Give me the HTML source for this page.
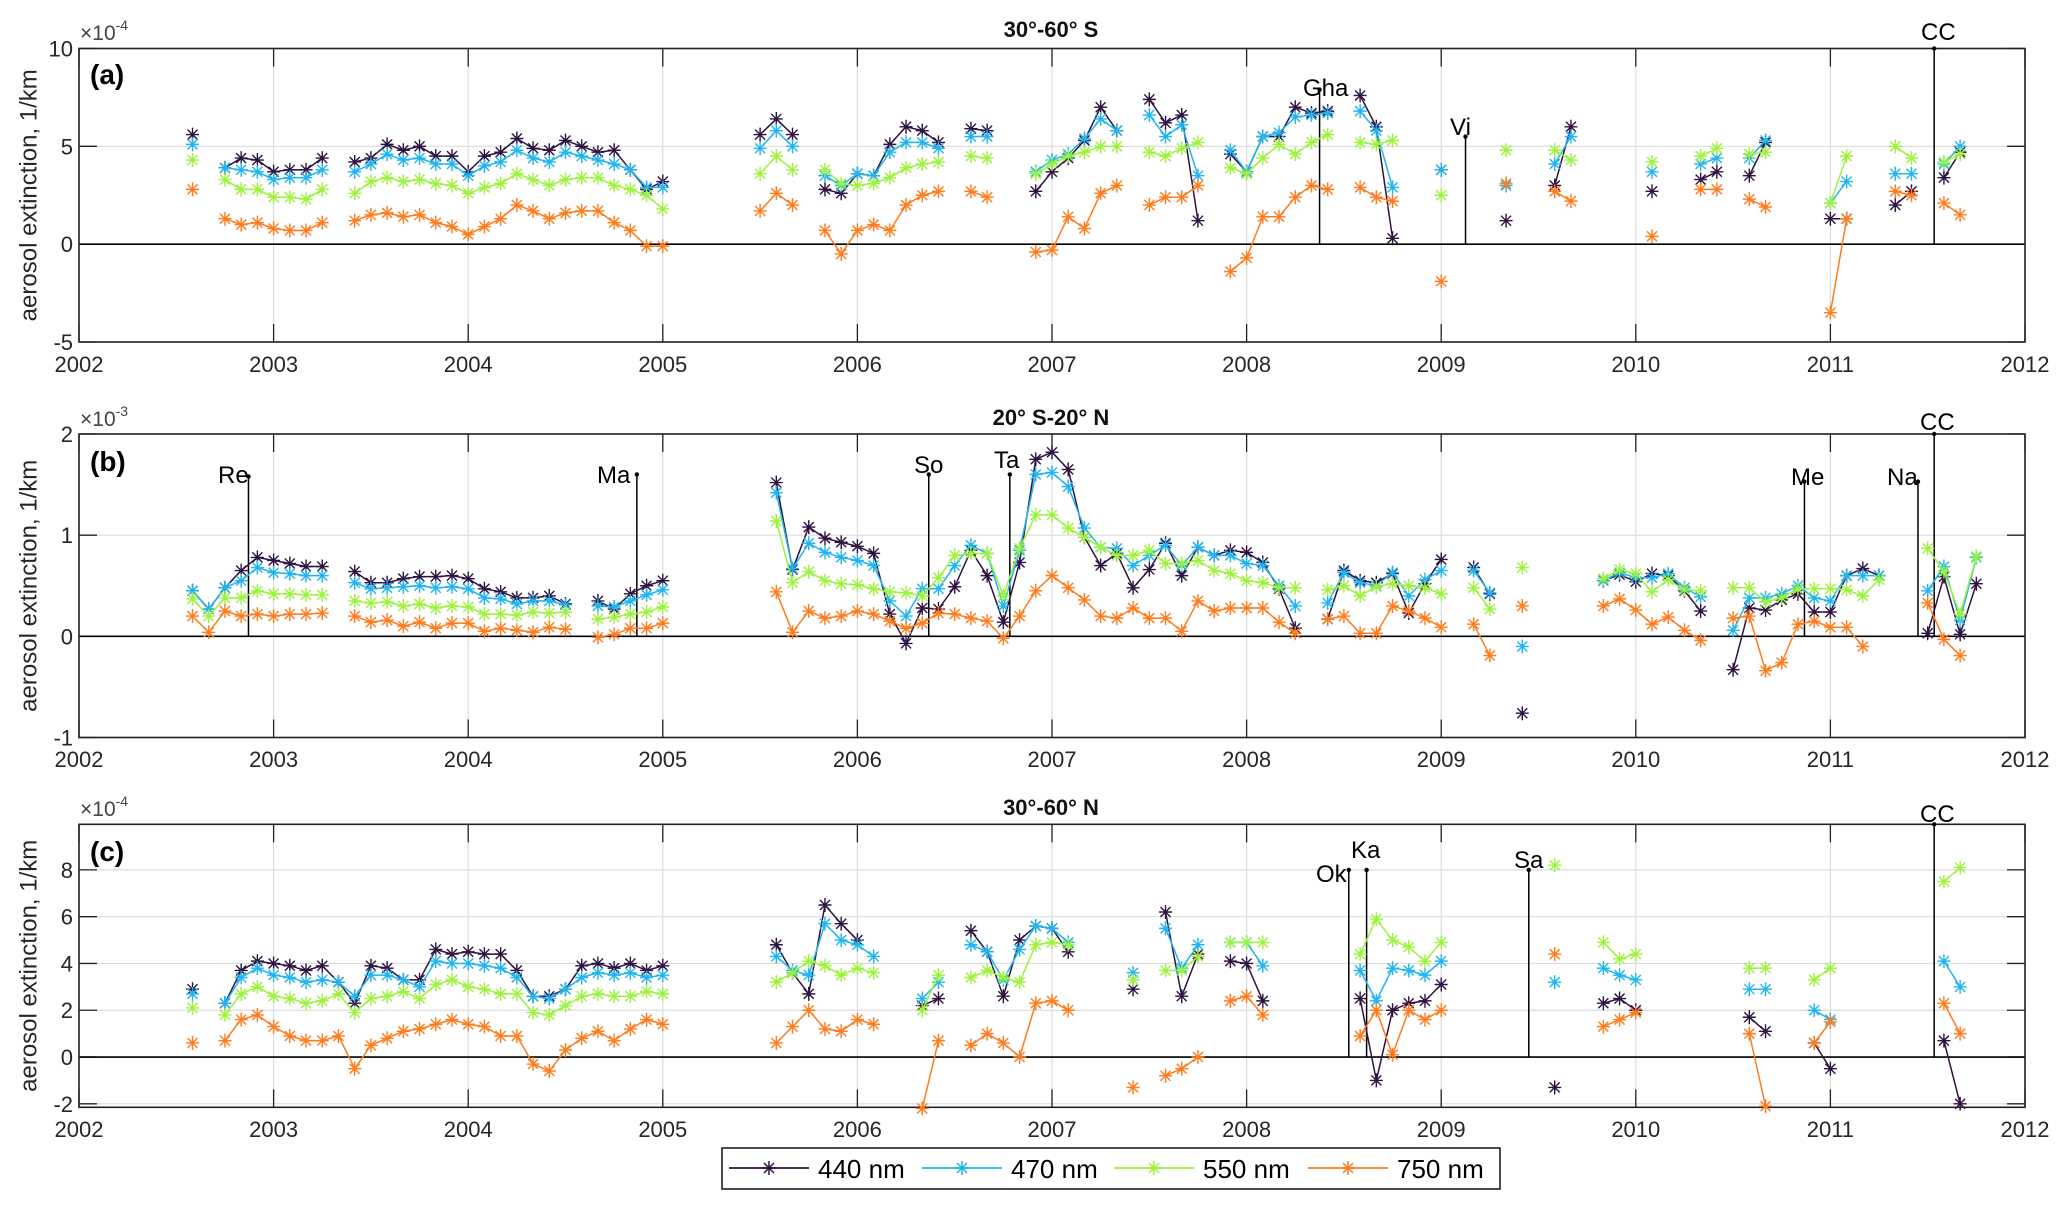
<!DOCTYPE html>
<html>
<head>
<meta charset="utf-8">
<style>
html,body{margin:0;padding:0;background:#fff;}
svg{display:block;font-family:"Liberation Sans",Arial,sans-serif;}
</style>
</head>
<body>
<svg id="chart" width="2067" height="1207" viewBox="0 0 2067 1207" xmlns="http://www.w3.org/2000/svg">
<rect x="0" y="0" width="2067" height="1207" fill="#fff"/>
</svg>
<script>
// ---------- shared ----------
const yearTicks = [2002,2003,2004,2005,2006,2007,2008,2009,2010,2011,2012];
const seriesNames = ["440 nm","470 nm","550 nm","750 nm"];

// ---------- panel (a) 30-60 S, units 1e-4 ----------
const aMonths = [7, 9,10,11,12,13,14,15,
 17,18,19,20,21,22,23,24,25,26,27,28,29,30,31,32,33,34,35,36,
 42,43,44, 46,47,48,49,50,51,52,53, 55,56, 59,60,61,62,63,64,
 66,67,68,69, 71,72,73,74,75,76,77, 79,80,81, 84, 88, 91,92, 97,
 100,101, 103,104, 108,109, 112,113, 115,116];
const a440 = [5.6, 3.9,4.4,4.3,3.7,3.8,3.8,4.4,
 4.2,4.4,5.1,4.8,5.0,4.5,4.5,3.7,4.5,4.7,5.4,4.9,4.8,5.3,5.0,4.7,4.8,3.8,2.8,3.2,
 5.6,6.4,5.6, 2.8,2.6,3.6,3.5,5.1,6.0,5.8,5.2, 5.9,5.8, 2.7,3.7,4.4,5.3,7.0,5.8,
 7.4,6.2,6.6,1.2, 4.6,3.7,5.5,5.5,7.0,6.7,6.8, 7.6,6.0,0.3, 3.8, 1.2, 3.0,6.0, 2.7,
 3.3,3.7, 3.5,5.2, 1.3,1.3, 2.0,2.7, 3.4,4.7];
const a470 = [5.1, 3.9,3.8,3.7,3.3,3.4,3.4,3.8,
 3.7,4.1,4.6,4.3,4.4,4.1,4.1,3.5,4.0,4.2,4.8,4.4,4.2,4.7,4.5,4.3,4.1,3.8,2.9,2.9,
 4.9,5.8,5.0, 3.5,3.0,3.6,3.5,4.7,5.2,5.2,4.9, 5.5,5.5, 3.7,4.3,4.6,5.4,6.4,5.8,
 6.6,5.5,6.1,3.5, 4.8,3.7,5.5,5.7,6.5,6.6,6.7, 6.8,5.8,2.9, 3.8, 3.0, 4.1,5.5, 3.7,
 4.1,4.4, 4.4,5.3, 2.1,3.2, 3.6,3.6, 4.1,5.0];
const a550 = [4.3, 3.3,2.8,2.8,2.4,2.4,2.3,2.8,
 2.6,3.2,3.4,3.2,3.3,3.1,3.0,2.6,2.9,3.1,3.6,3.3,3.0,3.3,3.4,3.4,3.0,2.8,2.5,1.8,
 3.6,4.5,3.8, 3.8,3.1,3.0,3.1,3.4,3.9,4.1,4.2, 4.5,4.4, 3.6,4.1,4.5,4.7,5.0,5.0,
 4.7,4.5,4.9,5.2, 3.9,3.6,4.4,5.1,4.6,5.2,5.6, 5.2,5.1,5.3, 2.5, 4.8, 4.8,4.3, 4.2,
 4.5,4.9, 4.6,4.7, 2.1,4.5, 5.0,4.4, 4.2,4.6];
const a750 = [2.8, 1.3,1.0,1.1,0.8,0.7,0.7,1.1,
 1.2,1.5,1.6,1.4,1.5,1.1,0.9,0.5,0.9,1.3,2.0,1.7,1.3,1.6,1.7,1.7,1.1,0.7,-0.1,-0.1,
 1.7,2.6,2.0, 0.7,-0.5,0.7,1.0,0.7,2.0,2.5,2.7, 2.7,2.4, -0.4,-0.3,1.4,0.8,2.6,3.0,
 2.0,2.4,2.4,3.0, -1.4,-0.7,1.4,1.4,2.4,3.0,2.8, 2.9,2.4,2.2, -1.9, 3.1, 2.7,2.2, 0.4,
 2.8,2.8, 2.3,1.9, -3.5,1.3, 2.7,2.5, 2.1,1.5];
const aTicks = [10,5,0,-5];
const aEventNames = ["Gha","Vi","CC"];
const aEventMonths = [76.5,85.5,114.4];
const aEventTops = [7.9,5.5,10];

// ---------- panel (b) 20S-20N, units 1e-3 ----------
const bMonths = [7,8,9,10,11,12,13,14,15,
 17,18,19,20,21,22,23,24,25,26,27,28,29,30,
 32,33,34,35,36,
 43,44,45,46,47,48,49,50,51,52,53,54,55,56,57,58,59,60,61,62,63,64,65,66,67,68,69,70,71,72,73,74,75,
 77,78,79,80,81,82,83,84, 86,87, 89,
 94,95,96,97,98,99,100,
 102,103,104,105,106,107,108,109,110,111,
 114,115,116,117];
const b440 = [0.45,0.27,0.48,0.65,0.78,0.75,0.72,0.69,0.69,
 0.64,0.53,0.53,0.57,0.59,0.59,0.6,0.57,0.47,0.44,0.38,0.38,0.4,0.32,
 0.35,0.27,0.42,0.5,0.55,
 1.52,0.66,1.08,0.97,0.93,0.89,0.82,0.22,-0.07,0.28,0.27,0.49,0.85,0.6,0.14,0.73,1.75,1.82,1.65,0.98,0.7,0.82,0.48,0.66,0.92,0.6,0.88,0.8,0.85,0.83,0.73,0.47,0.08,
 0.17,0.65,0.55,0.53,0.62,0.23,0.52,0.76, 0.68,0.42, -0.76,
 0.55,0.61,0.54,0.62,0.6,0.45,0.25,
 -0.33,0.28,0.26,0.36,0.42,0.24,0.24,0.6,0.67,0.6,
 0.03,0.59,0.02,0.52];
const b470 = [0.45,0.27,0.48,0.55,0.68,0.63,0.62,0.6,0.6,
 0.53,0.47,0.48,0.49,0.5,0.48,0.49,0.47,0.38,0.37,0.32,0.35,0.35,0.31,
 0.3,0.29,0.35,0.41,0.46,
 1.42,0.67,0.92,0.83,0.78,0.75,0.7,0.35,0.2,0.47,0.47,0.7,0.9,0.82,0.3,0.85,1.6,1.62,1.48,1.07,0.88,0.87,0.7,0.8,0.9,0.7,0.88,0.8,0.8,0.72,0.7,0.5,0.3,
 0.33,0.63,0.53,0.5,0.63,0.4,0.56,0.65, 0.65,0.43, -0.1,
 0.55,0.63,0.58,0.58,0.62,0.48,0.39,
 0.06,0.38,0.38,0.42,0.5,0.38,0.35,0.6,0.6,0.6,
 0.45,0.69,0.16,0.78];
const b550 = [0.37,0.2,0.38,0.38,0.45,0.42,0.42,0.41,0.41,
 0.35,0.33,0.34,0.3,0.32,0.28,0.3,0.29,0.22,0.22,0.21,0.24,0.23,0.24,
 0.17,0.19,0.22,0.24,0.29,
 1.14,0.53,0.64,0.55,0.52,0.51,0.47,0.44,0.43,0.4,0.58,0.8,0.82,0.82,0.4,0.87,1.2,1.2,1.07,0.98,0.88,0.8,0.8,0.85,0.72,0.72,0.75,0.65,0.62,0.55,0.53,0.48,0.48,
 0.46,0.5,0.4,0.49,0.52,0.5,0.48,0.42, 0.48,0.27, 0.68,
 0.57,0.66,0.62,0.44,0.56,0.46,0.45,
 0.48,0.48,0.34,0.38,0.47,0.47,0.47,0.46,0.4,0.56,
 0.87,0.64,0.22,0.79];
const b750 = [0.2,0.04,0.25,0.2,0.22,0.2,0.22,0.22,0.23,
 0.2,0.14,0.16,0.1,0.14,0.08,0.13,0.13,0.05,0.08,0.06,0.04,0.09,0.07,
 -0.01,0.02,0.08,0.08,0.13,
 0.44,0.04,0.25,0.18,0.2,0.25,0.22,0.15,0.08,0.13,0.23,0.22,0.18,0.15,-0.02,0.2,0.45,0.6,0.48,0.36,0.2,0.18,0.28,0.18,0.18,0.05,0.35,0.25,0.28,0.28,0.28,0.14,0.03,
 0.17,0.2,0.03,0.03,0.3,0.25,0.18,0.09, 0.12,-0.19, 0.3,
 0.3,0.37,0.26,0.12,0.19,0.06,-0.04,
 0.18,0.2,-0.34,-0.26,0.12,0.15,0.09,0.09,-0.1,null,
 0.33,-0.03,-0.19,null];
const bTicks = [2,1,0,-1];
const bEventNames = ["Re","Ma","So","Ta","Me","Na","CC"];
const bEventMonths = [10.45,34.4,52.4,57.4,106.4,113.4,114.4];
const bEventTops = [1.58,1.6,1.6,1.6,1.53,1.53,2];

// ---------- panel (c) 30-60 N, units 1e-4 ----------
const cMonths = [7,
 9,10,11,12,13,14,15,16,17,18,19,20,21,22,23,24,25,26,27,28,29,30,31,32,33,34,35,36,
 43,44,45,46,47,48,49, 52,53, 55,56,57,58,59,60,61, 65, 67,68,69, 71,72,73,
 79,80,81,82,83,84, 91, 94,95,96, 103,104, 107,108, 115,116];
const c440 = [2.9,
 2.3,3.7,4.1,4.0,3.9,3.7,3.9,3.2,2.3,3.9,3.8,3.3,3.3,4.6,4.4,4.5,4.4,4.4,3.7,2.6,2.6,2.9,3.9,4.0,3.8,4.0,3.7,3.9,
 4.8,3.6,2.7,6.5,5.7,5.0,null, 2.2,2.5, 5.4,4.5,2.6,5.0,5.6,5.5,4.5, 2.9, 6.2,2.6,4.4, 4.1,4.0,2.4,
 2.5,-1.0,2.0,2.3,2.4,3.1, -1.3, 2.3,2.5,2.0, 1.7,1.1, 0.6,-0.5, 0.7,-2.0];
const c470 = [2.7,
 2.3,3.4,3.8,3.5,3.4,3.2,3.3,3.2,2.6,3.5,3.5,3.3,3.0,4.1,4.0,4.0,3.9,3.8,3.4,2.6,2.5,2.9,3.4,3.6,3.5,3.6,3.4,3.5,
 4.3,3.7,3.5,5.7,5.0,4.8,4.3, 2.5,3.2, 4.8,4.5,3.3,4.6,5.6,5.5,4.9, 3.6, 5.5,3.8,4.8, 4.9,4.9,3.9,
 3.7,2.4,3.8,3.7,3.5,4.1, 3.2, 3.8,3.5,3.3, 2.9,2.9, 2.0,1.6, 4.1,3.0];
const c550 = [2.1,
 1.8,2.7,3.0,2.6,2.5,2.3,2.4,2.7,1.9,2.5,2.6,2.8,2.5,3.1,3.3,3.0,2.9,2.7,2.7,1.9,1.8,2.2,2.6,2.7,2.6,2.6,2.8,2.7,
 3.2,3.6,4.1,3.9,3.5,3.8,3.6, 2.0,3.5, 3.4,3.7,3.4,3.2,4.8,4.9,4.8, 3.3, 3.7,3.7,4.3, 4.9,4.9,4.9,
 4.4,5.9,5.0,4.7,4.1,4.9, 8.2, 4.9,4.2,4.4, 3.8,3.8, 3.3,3.8, 7.5,8.1];
const c750 = [0.6,
 0.7,1.6,1.8,1.3,0.9,0.7,0.7,0.9,-0.5,0.5,0.8,1.1,1.2,1.4,1.6,1.4,1.3,0.9,0.9,-0.3,-0.6,0.3,0.8,1.1,0.7,1.2,1.6,1.4,
 0.6,1.3,2.0,1.2,1.1,1.6,1.4, -2.2,0.7, 0.5,1.0,0.6,0.0,2.3,2.4,2.0, -1.3, -0.8,-0.5,0.0, 2.4,2.6,1.8,
 0.9,2.0,0.1,2.0,1.6,2.0, 4.4, 1.3,1.6,1.9, 1.0,-2.1, 0.6,1.5, 2.3,1.0];
const cTicks = [8,6,4,2,0,-2];
const cEventNames = ["Ok","Ka","Sa","CC"];
const cEventMonths = [78.3,79.4,89.4,114.4];
const cEventTops = [8,8,8,9.95];

// ---------- rendering ----------
const NS = "http://www.w3.org/2000/svg";
const svg = document.getElementById("chart");
const COLORS = ["#2e1240","#20b5ee","#9cf23c","#ff7b1c"];
const XL = 79, XR = 2025;
function xScale(m){ return XL + (m/12) * (XR-XL)/10; }
function xYear(y){ return XL + (y-2002) * (XR-XL)/10; }
function mk(tag, attrs, parent){
  const e = document.createElementNS(NS, tag);
  for (const k in attrs) e.setAttribute(k, attrs[k]);
  (parent||svg).appendChild(e);
  return e;
}

const panels = [
 {id:"a", top:48.5, bottom:342, ymin:-5, ymax:10, months:aMonths, series:[a440,a470,a550,a750], ticks:aTicks,
  names:aEventNames, em:aEventMonths, et:aEventTops, title:"30°-60° S", exp:"-4",
  titleY:37, tickY:372, expY:40, lblY:84,
  lbl:[[1303,96],[1450,135],[1921,40]]},
 {id:"b", top:434, bottom:737.5, ymin:-1, ymax:2, months:bMonths, series:[b440,b470,b550,b750], ticks:bTicks,
  names:bEventNames, em:bEventMonths, et:bEventTops, title:"20° S-20° N", exp:"-3",
  titleY:425, tickY:767, expY:426, lblY:471,
  lbl:[[218,483],[597,483],[914,473],[994,468],[1791,485],[1887,485],[1920,430]]},
 {id:"c", top:824.3, bottom:1107.3, ymin:-2.15, ymax:9.95, months:cMonths, series:[c440,c470,c550,c750], ticks:cTicks,
  names:cEventNames, em:cEventMonths, et:cEventTops, title:"30°-60° N", exp:"-4",
  titleY:815, tickY:1137, expY:816, lblY:861,
  lbl:[[1316,882],[1351,858],[1514,868],[1920,822]]}
];

function markerPath(x,y){
  return "M"+(x-6.5)+" "+y+"H"+(x+6.5)+"M"+x+" "+(y-7)+"V"+(y+7)+
         "M"+(x-5)+" "+(y-5)+"L"+(x+5)+" "+(y+5)+"M"+(x-5)+" "+(y+5)+"L"+(x+5)+" "+(y-5);
}

panels.forEach(function(p){
  const g = mk("g", {});
  
  
  const yScale = function(v){ return p.bottom - (v - p.ymin) / (p.ymax - p.ymin) * (p.bottom - p.top); };

  const grid = mk("g", {stroke:"#dcdcdc","stroke-width":"1.2"}, g);
  
  
  yearTicks.forEach(function(y){ mk("line",{x1:xYear(y),x2:xYear(y),y1:p.top,y2:p.bottom},grid); });
  p.ticks.forEach(function(t){ mk("line",{x1:XL,x2:XR,y1:yScale(t),y2:yScale(t)},grid); });

  const tk = mk("g",{stroke:"#222","stroke-width":"1.3"},g);
  yearTicks.forEach(function(y){
    const x = xYear(y);
    mk("line",{x1:x,x2:x,y1:p.bottom,y2:p.bottom-18},tk);
    mk("line",{x1:x,x2:x,y1:p.top,y2:p.top+18},tk);
  });
  p.ticks.forEach(function(t){
    const y = yScale(t);
    mk("line",{x1:XL,x2:XL+18,y1:y,y2:y},tk);
    mk("line",{x1:XR,x2:XR-18,y1:y,y2:y},tk);
  });

  const zl = mk("line",{x1:XL,x2:XR,y1:yScale(0),y2:yScale(0),stroke:"#000","stroke-width":"1.6"},g);
  
  

  const box = mk("rect",{x:XL,y:p.top,width:XR-XL,height:p.bottom-p.top,fill:"none",stroke:"#222","stroke-width":"1.6"},g);
  
  

  yearTicks.forEach(function(y){
    const t = mk("text",{x:xYear(y),y:p.tickY,"font-size":"22","text-anchor":"middle",fill:"#262626"},g);
    t.textContent = y;
    
    
  });
  p.ticks.forEach(function(tv){
    const t = mk("text",{x:73,y:yScale(tv)+8,"font-size":"22","text-anchor":"end",fill:"#262626"},g);
    t.textContent = tv;
    
    
  });

  const ex = mk("text",{x:80,y:p.expY,"font-size":"21",fill:"#444"},g);
  ex.textContent = "×10";
  
  
  const ts = mk("tspan",{dy:"-10","font-size":"14"},ex);
  ts.textContent = p.exp;

  const ti = mk("text",{x:1051,y:p.titleY,"font-size":"22","font-weight":"bold","text-anchor":"middle",fill:"#111"},g);
  ti.textContent = p.title;
  
  

  const pl = mk("text",{x:90,y:p.lblY,"font-size":"28","font-weight":"bold",fill:"#000"},g);
  pl.textContent = "(" + p.id + ")";
  
  

  const cy = (p.top + p.bottom)/2;
  const yl = mk("text",{x:30,y:cy,"font-size":"24","text-anchor":"middle",fill:"#262626",transform:"rotate(-90 30 "+cy+")","dominant-baseline":"middle"},g);
  yl.textContent = "aerosol extinction,  1/km";
  
  

  p.names.forEach(function(nm,i){
    const x = xScale(p.em[i]);
    const ev = mk("g",{},g);
    
    
    mk("line",{x1:x,x2:x,y1:yScale(0),y2:yScale(p.et[i]),stroke:"#000","stroke-width":"1.5"},ev);
    mk("circle",{cx:x,cy:yScale(p.et[i]),r:"2.2",fill:"#000"},ev);
    const t = mk("text",{x:p.lbl[i][0],y:p.lbl[i][1],"font-size":"24",fill:"#000"},ev);
    t.textContent = nm;
  });

  p.series.forEach(function(vals, si){
    const sg = mk("g",{stroke:COLORS[si],fill:"none","stroke-width":"1.5"},g);
    
    
    let d = "", prevM = null;
    for (let i=0;i<p.months.length;i++){
      const m = p.months[i], v = vals[i];
      if (v === null || v === undefined) { prevM = null; continue; }
      const x = xScale(m), y = yScale(v);
      if (prevM !== null && m - prevM === 1) d += "L"+x+" "+y;
      else d += "M"+x+" "+y;
      prevM = m;
    }
    const ln = mk("path",{d:d},sg);
    
    
    let md = "";
    for (let i=0;i<p.months.length;i++){
      const v = vals[i];
      if (v === null || v === undefined) continue;
      md += markerPath(xScale(p.months[i]), yScale(v));
    }
    const mp = mk("path",{d:md,"stroke-width":"1.4"},sg);
    
    
  });
});

// ---------- legend ----------
const lg = mk("g",{});


mk("rect",{x:722,y:1148,width:778,height:41,fill:"#fff",stroke:"#111","stroke-width":"1.5"},lg);
const legendX = [729,922,1114,1308];
seriesNames.forEach(function(nm,i){
  const e = mk("g",{},lg);
  
  
  const x0 = legendX[i], x1 = x0 + 80, y = 1168;
  mk("line",{x1:x0,x2:x1,y1:y,y2:y,stroke:COLORS[i],"stroke-width":"1.8"},e);
  mk("path",{d:markerPath((x0+x1)/2,y),stroke:COLORS[i],"stroke-width":"1.5",fill:"none"},e);
  const t = mk("text",{x:x1+9,y:1178,"font-size":"26",fill:"#000"},e);
  t.textContent = nm;
});
</script>
</body>
</html>
